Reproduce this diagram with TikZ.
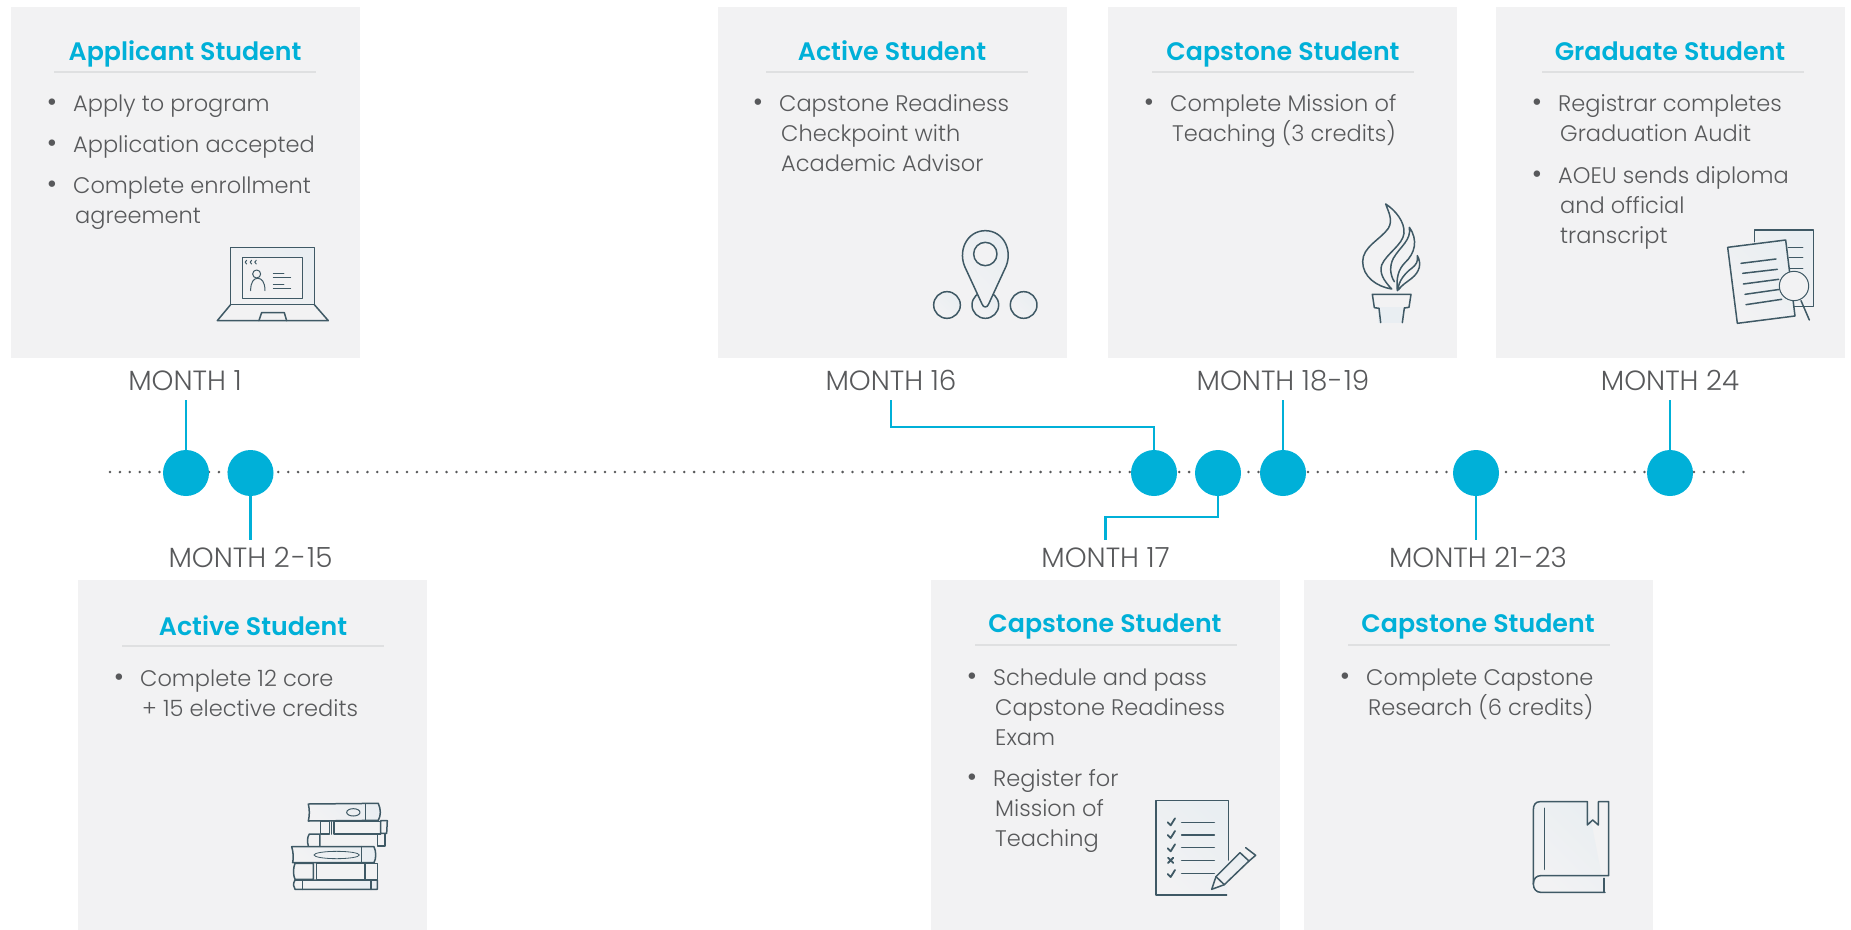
\documentclass[tikz,border=0pt]{standalone}
\usepackage{fontspec}
\setmainfont{Poppins}[UprightFont=* Light,BoldFont=* SemiBold]
\definecolor{cardgray}{HTML}{F2F2F3}
\definecolor{rulegray}{HTML}{DFE0E1}
\definecolor{textgray}{HTML}{58595B}
\definecolor{tealblue}{HTML}{00B0D8}
\definecolor{inkblue}{HTML}{3F5965}
\definecolor{paleblue}{HTML}{E9EEF2}
\newcommand{\itm}{\llap{{\fontsize{28}{30}\selectfont\textbullet}\hspace{16pt}}}
\newcommand{\nl}{\\\hspace*{2pt}}
\begin{document}
\begin{tikzpicture}[
        x=1pt, y=-1pt,
        card/.style={fill=cardgray, minimum width=349pt, minimum height=351pt, inner sep=0pt},
        head/.style={anchor=base, inner sep=0pt, text=tealblue, font=\fontsize{25.3}{30}\selectfont\bfseries},
        headrule/.style={draw=rulegray, line width=2pt},
        item/.style={anchor=base west, inner sep=0pt, align=left, text=textgray, font=\fontsize{22.5}{30}\selectfont},
        month/.style={inner xsep=0pt, inner ysep=10pt, text height=17pt, text depth=0pt, text=textgray, font=\fontsize{27.8}{32}\selectfont},
        stop/.style={circle, fill=tealblue, minimum size=46pt, inner sep=0pt},
        lead/.style={draw=tealblue, line width=2.2pt},
        dots/.style={draw=textgray, line width=2.8pt, line cap=round, dash pattern=on 0pt off 9.9pt},
        ico/.style={draw=inkblue, line width=1.5pt, line join=round, line cap=round},
        icofill/.style={ico, left color=paleblue, right color=cardgray, shading angle=-45},
    ]

    \useasboundingbox (0,0) rectangle (1851,929);

    % cards
    \node[card] (capp) at (185.5,182.5) {};
    \node[card] (cact) at (892.5,182.5) {};
    \node[card] (ccap) at (1282.5,182.5) {};
    \node[card] (cgrad) at (1670.5,182.5) {};
    \node[card] (bact) at (252.5,755.5) {};
    \node[card] (bexam) at (1105,755.5) {};
    \node[card] (bres) at (1478.5,755.5) {};

    % card titles
    \node[head] (tapp) at (185,60) {Applicant Student};
    \node[head] (tact) at (892,60) {Active Student};
    \node[head] (tcap) at (1283,60) {Capstone Student};
    \node[head] (tgrad) at (1670,60) {Graduate Student};
    \node[head] (tbact) at (253,635) {Active Student};
    \node[head] (tbexam) at (1105,632) {Capstone Student};
    \node[head] (tbres) at (1478,632) {Capstone Student};

    \draw[headrule] (54,72) -- (316,72);
    \draw[headrule] (766,72) -- (1028,72);
    \draw[headrule] (1152,72) -- (1414,72);
    \draw[headrule] (1542,72) -- (1804,72);
    \draw[headrule] (122,646) -- (384,646);
    \draw[headrule] (975,645) -- (1237,645);
    \draw[headrule] (1348,645) -- (1610,645);

    % card items, placed at the baseline of their last line
    \node[item] (i1) at (73,111) {\itm Apply to program};
    \node[item] (i2) at (73,152) {\itm Application accepted};
    \node[item] (i3) at (73,223) {\itm Complete enrollment\nl agreement};
    \node[item] (i4) at (779,171) {\itm Capstone Readiness\nl Checkpoint with\nl Academic Advisor};
    \node[item] (i5) at (1170,141) {\itm Complete Mission of\nl Teaching (3 credits)};
    \node[item] (i6) at (1558,141) {\itm Registrar completes\nl Graduation Audit};
    \node[item] (i7) at (1558,243) {\itm AOEU sends diploma\nl and official\nl transcript};
    \node[item] (i8) at (140,716) {\itm Complete 12 core\nl + 15 elective credits};
    \node[item] (i9) at (993,745) {\itm Schedule and pass\nl Capstone Readiness\nl Exam};
    \node[item] (i10) at (993,846) {\itm Register for\nl Mission of\nl Teaching};
    \node[item] (i11) at (1366,715) {\itm Complete Capstone\nl Research (6 credits)};

    % timeline
    \coordinate (lineL) at (110,472);
    \coordinate (lineR) at (1752,472);
    \draw[dots] (lineL) -- (lineR);
    \foreach \name/\xpos in {d1/186, d2/250.5, d16/1154, d17/1218, d18/1283, d21/1476, d24/1670}
        \node[stop] (\name) at (\xpos,473) {};

    \node[month] (m1) at (185,381.5) {MONTH 1};
    \node[month] (m2) at (250.5,558.5) {MONTH 2\kern2pt-\kern1pt15};
    \node[month] (m16) at (891,381.5) {MONTH 16};
    \node[month] (m17) at (1105.5,558.5) {MONTH 17};
    \node[month] (m18) at (1283,381.5) {MONTH 18\kern1pt-\kern1pt19};
    \node[month] (m21) at (1478,558.5) {MONTH 21\kern1pt-\kern1pt23};
    \node[month] (m24) at (1670,381.5) {MONTH 24};

    \draw[lead] (d1.north) -- (d1.north |- m1.south);
    \draw[lead] (d2.south) -- (d2.south |- m2.north);
    \draw[lead] (m16.south) -- ++(0,27) -| (d16.north);
    \draw[lead] (d17.south) -- ++(0,21) -| (m17.north);
    \draw[lead] (m18.south) -- (d18.north);
    \draw[lead] (d21.south) -- (d21.south |- m21.north);
    \draw[lead] (m24.south) -- (d24.north);

    % laptop
    \begin{scope}[shift={(0,0)}, x=0.3333pt, y=-0.3333pt]
        \draw[icofill] (692,743) rectangle (943,914);
        \draw[ico, fill=cardgray] (727,773) rectangle (907,896);
        \draw[ico] (692,914) -- (652,962) -- (985,962) -- (943,914);
        \draw[ico] (777,962) -- (785,938) -- (853,938) -- (860,962);
        \draw[ico, line width=1pt] (770,822) circle (12);
        \draw[ico, line width=1pt] (752,872) .. controls (752,845) and (762,835) .. (773,835) .. controls (785,835) and (795,845) .. (795,872);
        \draw[ico, line width=1pt] (820,820) -- (852,820) (820,832) -- (872,832) (820,854) -- (852,854) (820,866) -- (872,866);
        \foreach \xc in {740,755,769}
            \draw[ico, line width=1pt] (\xc,781) .. controls (\xc-6,781) and (\xc-6,792) .. (\xc,792);
    \end{scope}

    % pin with three circles
    \begin{scope}[shift={(910,210)}, x=0.3333pt, y=-0.3333pt]
        \foreach \xc in {111,226,341}
            \draw[icofill] (\xc,285) circle (40);
        \draw[icofill] (168,178) .. controls (140,125) and (170,62) .. (226,62) .. controls (282,62) and (312,125) .. (284,178) -- (236,282) .. controls (232,294) and (220,294) .. (216,282) -- cycle;
        \draw[ico, fill=cardgray] (226,132) circle (35);
    \end{scope}

    % torch
    \begin{scope}[shift={(1340,190)}, x=0.3333pt, y=-0.3333pt]
        \draw[ico] (137,42) .. controls (165,60) and (195,95) .. (192,130) .. controls (188,165) and (140,190) .. (125,225) .. controls (118,250) and (130,270) .. (155,297) .. controls (110,290) and (68,260) .. (68,215) .. controls (68,170) and (120,150) .. (145,115) .. controls (160,90) and (145,65) .. (137,42) -- cycle;
        \draw[ico] (163,275) .. controls (150,255) and (148,228) .. (160,205) .. controls (180,170) and (215,150) .. (208,112) .. controls (235,150) and (225,190) .. (195,218) .. controls (175,238) and (168,265) .. (172,302);
        \draw[ico] (175,300) .. controls (172,275) and (200,245) .. (215,235) .. controls (228,225) and (235,215) .. (232,197) .. controls (245,220) and (240,245) .. (215,265) .. controls (200,277) and (185,285) .. (175,300);
        \fill[paleblue] (115,352) rectangle (190,398);
        \draw[ico] (122,398) -- (117,355) -- (103,353) -- (97,313) -- (213,313) -- (207,352) -- (193,354) -- (187,398);
    \end{scope}

    % documents and lens
    \begin{scope}[shift={(1660,190)}, x=0.3333pt, y=-0.3333pt]
        \draw[icofill] (283,155) -- (283,120) -- (460,120) -- (460,350) -- (402,350);
        \draw[ico] (385,172) -- (428,172) (388,203) -- (428,203) (388,235) -- (428,235);
        \draw[icofill] (203,172) -- (377,150) -- (405,378) -- (232,400) -- cycle;
        \draw[ico] (243,220) -- (348,207) (248,250) -- (352,238) (250,282) -- (356,268) (255,313) -- (360,298) (258,344) -- (365,328);
        \draw[ico, line width=1pt, fill=cardgray] (402,288) circle (44);
        \draw[ico] (423,332) -- (448,390);
    \end{scope}

    % stack of books
    \begin{scope}[shift={(270,780)}, x=0.3333pt, y=-0.3333pt]
        \draw[icofill] (115,72) -- (325,70) .. controls (333,90) and (333,105) .. (325,121) -- (115,123) .. controls (119,105) and (119,90) .. (115,72) -- cycle;
        \draw[ico] (286,72) -- (286,122);
        \draw[ico, line width=1pt] (250,97) ellipse (20 and 11);
        \draw[ico] (152,125) rectangle (178,162);
        \draw[ico] (185,125) -- (185,162);
        \draw[ico] (332,125) -- (192,125) -- (192,162) -- (332,162);
        \draw[ico] (332,122) -- (352,122) -- (350,160) -- (332,160) -- cycle;
        \draw[ico] (115,198) .. controls (111,185) and (112,170) .. (118,162) -- (150,162) -- (150,198);
        \draw[ico] (323,162) -- (323,198) -- (345,198) -- (345,162);
        \draw[icofill] (65,200) -- (312,200) .. controls (319,215) and (319,235) .. (312,248) -- (68,248) .. controls (71,235) and (70,215) .. (65,200) -- cycle;
        \draw[ico] (274,200) -- (274,248);
        \draw[ico, line width=0.8pt] (200,225) ellipse (68 and 11);
        \draw[ico] (130,250) -- (75,250) .. controls (69,265) and (69,285) .. (75,298) -- (130,298) -- cycle;
        \draw[ico] (140,250) -- (140,298) -- (285,298);
        \draw[ico] (140,250) -- (285,250);
        \draw[ico] (285,250) rectangle (322,298);
        \draw[icofill] (75,300) .. controls (69,310) and (69,320) .. (75,328) -- (322,328) -- (322,300) -- cycle;
        \draw[ico] (97,300) -- (97,328) (303,300) -- (303,328);
    \end{scope}

    % checklist and pencil
    \begin{scope}[shift={(1130,780)}, x=0.3333pt, y=-0.3333pt]
        \draw[icofill] (295,240) -- (295,62) -- (78,62) -- (78,345) -- (290,345);
        \foreach \yc in {127,165,205,282} {
            \draw[ico, line width=1.8pt] (113,\yc) -- (122,\yc+9) -- (135,\yc-12);
        }
        \draw[ico, line width=1.8pt] (114,233) -- (130,249) (130,233) -- (114,249);
        \foreach \yc in {127,165,203,241,281}
            \draw[ico] (155,\yc) -- (253,\yc);
        \draw[icofill] (258,290) -- (330,218) -- (357,243) -- (283,314) -- (245,328) -- cycle;
        \draw[ico] (258,290) -- (283,314);
        \draw[ico] (347,203) -- (377,226) -- (357,243);
    \end{scope}

    % book with bookmark
    \begin{scope}[shift={(1510,790)}, x=0.3333pt, y=-0.3333pt]
        \draw[icofill] (232,35) -- (90,35) .. controls (76,35) and (70,45) .. (70,60) -- (70,282) .. controls (70,298) and (80,307) .. (92,307) -- (285,307);
        \draw[ico] (232,35) -- (232,105) -- (248,90) -- (265,105) -- (265,35) -- (296,35) -- (296,257) -- (92,257) .. controls (80,257) and (70,265) .. (70,282);
        \draw[ico] (103,55) -- (103,238);
        \draw[ico] (282,265) -- (282,305);
    \end{scope}
\end{tikzpicture}
\end{document}
